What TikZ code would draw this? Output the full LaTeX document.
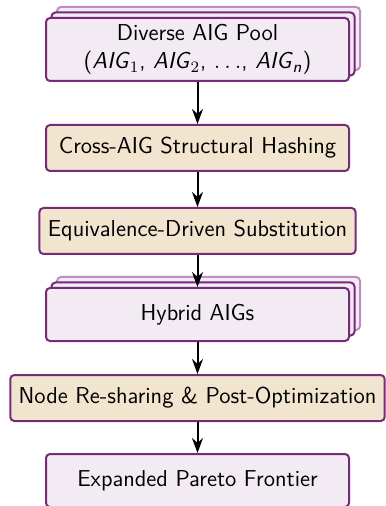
\documentclass[tikz,border=0pt]{standalone}
\usepackage{tikz}
\usetikzlibrary{arrows.meta,shadows}

\definecolor{frameviolet}{RGB}{118,42,120}
\definecolor{backviolet}{RGB}{190,142,194}
\definecolor{setviolet}{RGB}{243,235,243}
\definecolor{opbeige}{RGB}{242,229,207}

\begin{document}
\begin{tikzpicture}[x=0.5pt, y=-0.5pt, line width=1pt,
  font=\sffamily\fontsize{11.5}{13.8}\selectfont,
  setbox/.style={draw=frameviolet, fill=setviolet, rounded corners=2pt,
    minimum width=151.5pt, minimum height=26.5pt, inner xsep=4.2pt, align=center},
  opbox/.style={draw=frameviolet, fill=opbeige, rounded corners=2pt,
    minimum width=151.5pt, minimum height=23pt, inner xsep=4.2pt},
  stacked/.style={copy shadow={shadow xshift=5.5pt, shadow yshift=5.5pt, draw=backviolet},
    copy shadow={shadow xshift=2.75pt, shadow yshift=2.75pt}},
  flow/.style={-{Stealth[length=7.5pt, width=5.5pt]}}]

  \useasboundingbox (0,0) rectangle (385,506);

  %% ==== boxes, top to bottom ====
  \node[setbox, stacked, minimum height=31.5pt] (pool) at (197.5,49.5)
    {Diverse AIG Pool\\(\textit{AIG}$_1$, \textit{AIG}$_2$, $\ldots$, \textit{AIG}\textsubscript{\textit{n}})};
  \node[opbox] (hashing) at (197.5,148) {Cross-AIG Structural Hashing};
  \node[opbox] (subst) at (197.5,231) {Equivalence-Driven Substitution};
  \node[setbox, stacked] (hybrid) at (197.5,314.5) {Hybrid AIGs};
  \node[opbox] (reshare) at (197.5,398) {Node Re-sharing \& Post-Optimization};
  \node[setbox] (pareto) at (197.5,480.5) {Expanded Pareto Frontier};

  %% ==== arrows ====
  \draw[flow] (pool) -- (hashing);
  \draw[flow] (hashing) -- (subst);
  \draw[flow] (subst) -- (hybrid);
  \draw[flow] (hybrid) -- (reshare);
  \draw[flow] (reshare) -- (pareto);
\end{tikzpicture}
\end{document}
